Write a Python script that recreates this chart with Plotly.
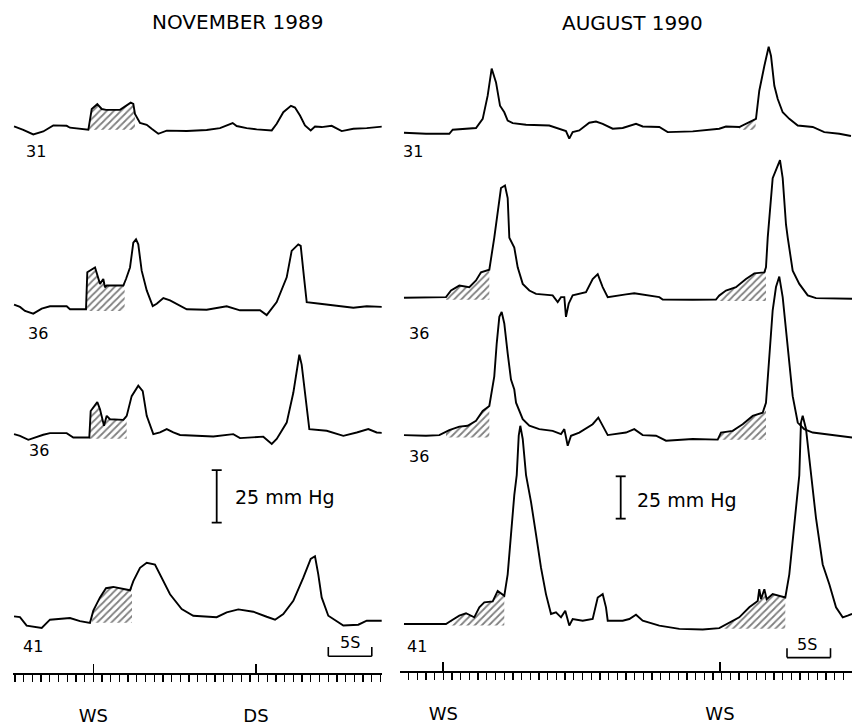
import numpy as np
import plotly.graph_objects as go

# ---------------- data ----------------
# time: s relative to the WS mark of each panel; pressure: mmHg above the record's baseline
# NOVEMBER 1989
nov31_t = [-9.11,-8.05,-6.90,-5.75,-4.60,-3.06,-2.68,-0.57,-0.18,0.46,0.97,1.46,3.07,3.64,4.30,4.60,4.79,5.37,6.14,6.71,7.47,8.44,10.74,13.03,14.56,16.02,16.48,17.63,18.78,20.51,21.08,21.84,22.72,23.18,23.76,24.33,24.99,25.48,26.25,27.40,28.55,29.89,31.43,33.41]
nov31_p = [1.1,-0.5,-2.7,-1.3,1.6,1.4,0.5,-0.5,9.4,11.7,9.4,9.0,9.0,10.7,12.4,11.8,7.1,2.8,1.9,0.0,-2.4,-0.9,-1.1,-0.6,0.3,2.7,1.3,0.3,-0.3,-0.8,2.4,7.9,10.9,10.1,6.3,1.6,-0.8,1.1,0.8,1.4,-1.1,0.0,0.3,1.1]

nov36a_t = [-9.11,-8.43,-7.85,-6.90,-5.93,-4.98,-3.06,-2.68,-0.84,-0.76,-0.69,0.20,0.77,1.15,1.34,1.54,3.45,3.76,4.22,4.60,4.91,5.17,5.56,6.14,6.83,7.29,8.05,8.82,9.97,10.74,13.03,15.33,16.86,19.16,19.93,21.08,22.23,22.80,23.56,23.84,24.22,24.53,26.06,27.59,29.89,31.43,33.41]
nov36a_p = [1.6,0.5,-1.4,-2.7,-0.3,0.8,0.8,-0.6,-0.6,9.9,17.0,19.3,11.5,13.8,9.9,10.7,10.7,13.8,19.3,31.1,32.7,30.3,17.8,8.4,0.9,2.0,4.7,3.6,1.3,-0.6,-0.8,0.8,-1.1,-1.1,-3.4,2.8,14.6,27.2,30.3,29.6,14.6,2.8,2.0,1.3,0.1,0.8,0.5]

nov36b_t = [-9.11,-8.43,-7.47,-6.51,-5.75,-4.98,-3.06,-2.30,-0.46,-0.30,0.46,0.77,1.23,1.54,1.92,3.45,3.84,4.41,5.17,5.68,6.14,6.90,7.67,8.44,9.20,9.97,13.79,16.09,16.86,19.54,20.51,21.08,22.23,22.99,23.49,23.68,23.95,24.33,24.83,26.83,28.74,30.28,31.61,32.57,33.41]
nov36b_p = [0.3,-0.5,-2.4,-0.9,0.0,0.8,0.8,-1.3,-1.3,11.3,15.6,12.1,4.3,9.0,7.4,7.1,9.0,18.4,23.4,20.8,9.0,0.3,1.1,2.7,1.1,-0.1,-0.8,0.3,-1.6,-0.9,-4.4,-2.0,5.8,20.0,33.4,38.1,33.4,20.0,2.7,1.9,-0.5,1.1,2.7,1.1,0.8]

nov41_t = [-9.11,-8.43,-7.66,-5.93,-4.98,-2.68,-1.53,-0.38,0.00,0.77,1.46,2.30,4.22,4.60,5.37,6.14,7.09,7.67,8.82,10.16,11.49,14.18,15.33,16.67,18.39,19.93,20.89,21.84,22.99,24.14,24.99,25.48,25.86,26.25,27.01,28.74,30.46,31.43,33.41]
nov41_p = [2.2,1.8,-2.2,-3.3,0.6,1.4,-0.1,-0.9,4.9,11.2,15.6,16.2,14.6,19.0,25.3,27.7,26.9,22.2,12.7,5.7,2.5,1.8,4.1,5.5,4.4,2.0,0.6,3.3,9.6,20.6,29.6,30.8,22.2,11.2,2.5,-2.2,-1.8,0.1,0.1]

# AUGUST 1990
aug31_t = [-4.52,-1.99,0.69,1.08,3.76,4.53,5.10,5.56,6.06,6.52,7.01,7.40,7.98,9.51,12.18,13.15,14.10,14.48,14.87,15.63,16.78,17.55,18.32,19.47,20.62,22.15,22.92,24.83,25.79,28.67,31.72,32.49,34.02,35.94,36.32,36.90,37.40,37.67,38.05,38.44,39.01,39.77,40.74,42.46,43.79,45.52,46.86]
aug31_p = [-1.2,-1.8,-1.8,0.6,1.6,7.0,20.7,36.7,28.5,14.8,10.9,6.0,4.5,3.5,3.1,1.2,-0.2,-4.7,-0.8,0.2,4.7,5.4,4.1,1.2,1.6,4.1,2.5,2.2,-0.8,-0.4,1.2,2.5,2.2,7.0,23.6,38.2,49.6,44.1,26.5,18.7,10.9,7.0,3.1,2.2,-0.8,-1.8,-3.1]

aug36a_t = [-4.52,-1.99,0.31,0.89,1.84,2.99,3.76,4.33,5.29,5.86,6.63,7.09,7.40,7.59,8.16,8.55,9.13,9.89,10.66,12.57,13.15,13.53,13.91,14.10,14.41,14.87,16.40,17.17,17.75,18.32,18.90,21.00,21.95,24.83,25.22,28.67,31.34,31.72,32.49,33.64,34.79,35.75,36.90,37.09,37.29,37.86,38.70,39.01,39.39,39.59,40.16,40.92,41.89,42.84,45.14,46.98]
aug36a_p = [-0.4,0.0,0.0,3.9,6.8,5.9,9.8,14.6,16.2,35.1,64.4,65.9,58.5,35.1,29.3,17.6,7.8,3.9,1.9,1.0,-2.9,0.0,0.0,-11.7,-3.9,1.0,2.9,10.7,13.6,5.9,0.0,1.6,2.3,0.0,-1.4,-1.6,-1.4,1.0,3.9,5.9,10.7,14.0,14.6,17.6,35.1,70.2,80.9,70.2,42.9,35.1,15.6,7.8,1.0,-0.6,-1.0,-1.0]

aug36b_t = [-4.52,-1.99,-0.46,0.69,1.84,2.80,3.76,4.53,5.29,5.86,6.14,6.44,6.71,7.01,7.40,7.78,8.16,8.36,9.13,9.89,11.03,12.57,13.53,13.91,14.30,14.68,15.63,17.17,17.82,18.32,18.90,21.00,21.95,22.92,24.45,25.60,28.67,31.54,31.92,33.26,34.41,35.56,36.71,37.09,37.47,37.86,38.24,38.62,39.01,39.39,39.77,40.16,40.74,41.49,42.46,43.99,45.52,46.98]
aug36b_p = [0.4,0.0,0.4,3.3,5.4,5.9,8.8,14.6,17.6,35.1,54.6,70.2,73.1,66.3,48.7,33.2,27.3,19.5,9.8,5.9,3.9,2.9,1.0,3.9,-5.9,0.0,1.9,6.8,10.7,5.9,0.4,1.9,3.9,0.4,0.0,-2.9,-1.9,-2.3,1.9,2.9,6.8,11.7,13.6,19.5,48.7,74.1,87.8,94.0,81.9,62.4,39.0,23.4,7.8,3.9,1.9,1.0,0.0,-1.0]

aug41_t = [-4.52,-1.99,0.31,0.89,1.84,2.61,3.56,4.14,4.71,5.68,6.25,7.01,7.40,7.78,8.16,8.44,8.67,8.85,9.13,9.51,10.08,10.66,11.23,11.80,12.38,12.95,13.53,14.02,14.48,14.87,16.02,17.17,17.75,18.32,18.70,18.90,20.62,21.38,22.15,22.92,24.83,27.13,29.82,31.72,32.49,34.02,35.17,36.14,36.32,36.52,36.90,37.17,37.86,39.31,39.77,40.16,40.54,40.92,41.11,41.31,41.69,42.26,42.84,43.61,44.37,45.14,45.91,46.48,46.98]
aug41_p = [0.0,0.0,0.0,1.9,4.9,6.3,3.9,9.8,12.7,13.3,19.5,16.6,29.3,52.7,76.1,87.8,111.2,117.0,109.2,87.8,72.1,52.7,33.2,17.6,5.9,6.8,3.9,7.8,-1.0,2.9,1.9,2.9,15.6,17.6,9.8,1.9,1.9,2.9,5.4,1.9,-1.0,-2.9,-3.3,-2.5,-0.4,3.9,9.8,13.6,20.5,14.6,20.5,14.6,17.6,15.6,29.3,48.7,70.2,87.8,118.9,122.9,115.1,87.8,62.4,35.1,23.4,9.8,3.9,4.9,5.9]

# hatched intervals: (start s, end s, floor mmHg)
nov31_hatch = [(-0.57, 4.79, -0.5)]
nov36a_hatch = [(-0.84, 3.60, -1.4)]
nov36b_hatch = [(-0.46, 3.84, -1.9)]
nov41_hatch = [(-0.15, 4.45, -0.9)]
aug31_hatch = [(34.0, 35.9, 0.6)]
aug36a_hatch = [(0.31, 5.29, -1.6), (31.72, 37.09, -2.3)]
aug36b_hatch = [(0.31, 5.29, -1.0), (31.72, 37.09, -2.3)]
aug41_hatch = [(0.89, 7.01, -1.0), (32.10, 39.31, -2.9)]

record_labels = ["31", "36", "36", "41"]
nov_marks = [0.0, 18.70]
nov_mark_text = ["WS", "DS"]
aug_marks = [0.0, 31.80]
aug_mark_text = ["WS", "WS"]
SCALE_MMHG = 25
SCALE_S = 5

# ---------------- layout (pixels of the 852 x 726 page) ----------------
W, H = 852, 726
FONT = "DejaVu Sans"
panels = {
    "nov": dict(xa="x", ya="y", zero_px=93.3, px_per_s=8.7, px_per_mmhg=2.12,
                left_px=12.7, right_px=381.7, ruler_px=679.5,
                bases=[130, 311, 439, 627],
                records=[(nov31_t, nov31_p, nov31_hatch), (nov36a_t, nov36a_p, nov36a_hatch),
                         (nov36b_t, nov36b_p, nov36b_hatch), (nov41_t, nov41_p, nov41_hatch)],
                label_pos=[(36, 153), (37.5, 337), (38.5, 455), (32.5, 653)],
                title="NOVEMBER 1989", title_pos=(237, 22),
                mmhg_bar=(216.7, 527.7), mmhg_text=(233, 502),
                s_bar=(328.3, 662.7), s_text=(350, 649),
                marks=nov_marks, mark_text=nov_mark_text),
    "aug": dict(xa="x2", ya="y2", zero_px=443.3, px_per_s=8.7, px_per_mmhg=1.71,
                left_px=400, right_px=852, ruler_px=677.5,
                bases=[132, 300, 440, 630],
                records=[(aug31_t, aug31_p, aug31_hatch), (aug36a_t, aug36a_p, aug36a_hatch),
                         (aug36b_t, aug36b_p, aug36b_hatch), (aug41_t, aug41_p, aug41_hatch)],
                label_pos=[(413, 153), (418.5, 337), (418.5, 461), (416.5, 653)],
                title="AUGUST 1990", title_pos=(632, 23),
                mmhg_bar=(620.7, 523.7), mmhg_text=(635, 505),
                s_bar=(787, 664), s_text=(807, 651),
                marks=aug_marks, mark_text=aug_mark_text),
}

fig = go.Figure()
annotations = []
shapes = []


def ann(text, xpx, ypx, size, xanchor="center"):
    annotations.append(dict(text=text, x=xpx / W, y=1 - ypx / H, xref="paper", yref="paper",
                            xanchor=xanchor, yanchor="middle", showarrow=False,
                            font=dict(family=FONT, size=size, color="black")))


for key, P in panels.items():
    K = P["px_per_mmhg"]
    S = P["px_per_s"]
    xa, ya = P["xa"], P["ya"]
    for (t, p, hatches), base in zip(P["records"], P["bases"]):
        t = np.asarray(t, float)
        p = np.asarray(p, float)
        off = -base / K
        for (h0, h1, floor) in hatches:
            inside = (t > h0) & (t < h1)
            ht = np.concatenate([[h0], t[inside], [h1, h1, h0, h0]])
            hp = np.concatenate([[np.interp(h0, t, p)], p[inside],
                                 [np.interp(h1, t, p), floor, floor, np.interp(h0, t, p)]])
            fig.add_trace(go.Scatter(x=ht, y=hp + off, xaxis=xa, yaxis=ya, mode="lines",
                                     line=dict(width=0, color="black"), fill="toself",
                                     fillcolor="rgba(0,0,0,0)",
                                     fillpattern=dict(shape="/", fgcolor="black", bgcolor="white",
                                                      size=5, solidity=0.35),
                                     hoverinfo="skip", showlegend=False))
        fig.add_trace(go.Scatter(x=t, y=p + off, xaxis=xa, yaxis=ya, mode="lines",
                                 line=dict(color="black", width=1.9), showlegend=False))

    # record labels and titles
    for lab, (lx, ly) in zip(record_labels, P["label_pos"]):
        ann(lab, lx, ly, 16)
    ann(P["title"], *P["title_pos"], 20)

    # 25 mmHg scale bar
    bx, by = P["mmhg_bar"]
    bt = (bx - P["zero_px"]) / S
    y0 = -by / K
    y1 = y0 + SCALE_MMHG
    cap = 5 / S
    xr, yr = xa, ya
    for (a0, b0, a1, b1) in [(bt, y0, bt, y1), (bt - cap, y0, bt + cap, y0), (bt - cap, y1, bt + cap, y1)]:
        shapes.append(dict(type="line", xref=xr, yref=yr, x0=a0, y0=b0, x1=a1, y1=b1,
                           line=dict(color="black", width=1.8)))
    ann("25 mm Hg", P["mmhg_text"][0], P["mmhg_text"][1], 19, xanchor="left")

    # 5 s scale bar
    sx, sy = P["s_bar"]
    st0 = (sx - P["zero_px"]) / S
    st1 = st0 + SCALE_S
    sy0 = -sy / K
    sy1 = sy0 + 9.5 / K
    for (a0, b0, a1, b1) in [(st0, sy0, st1, sy0), (st0, sy0, st0, sy1), (st1, sy0, st1, sy1)]:
        shapes.append(dict(type="line", xref=xr, yref=yr, x0=a0, y0=b0, x1=a1, y1=b1,
                           line=dict(color="black", width=1.6)))
    ann("5S", P["s_text"][0], P["s_text"][1], 16)

    # axes: the time ruler is the x axis itself
    xname = "xaxis" if xa == "x" else "xaxis2"
    yname = "yaxis" if ya == "y" else "yaxis2"
    fig.update_layout(**{
        xname: dict(domain=[P["left_px"] / W, P["right_px"] / W], anchor="free",
                    position=1 - P["ruler_px"] / H,
                    range=[(P["left_px"] - P["zero_px"]) / S, (P["right_px"] - P["zero_px"]) / S],
                    showline=True, linecolor="black", linewidth=1.6,
                    showgrid=False, zeroline=False,
                    tickmode="array", tickvals=P["marks"], ticktext=P["mark_text"],
                    ticks="inside", ticklen=9, tickwidth=1.6, tickcolor="black",
                    ticklabelstandoff=26,
                    tickfont=dict(family=FONT, size=18, color="black"),
                    minor=dict(ticks="outside", ticklen=7, tickwidth=1.3, tickcolor="black",
                               tick0=0, dtick=1, showgrid=False)),
        yname: dict(domain=[0, 1], anchor=xa, range=[-H / K, 0], visible=False,
                    showgrid=False, zeroline=False),
    })

fig.update_layout(width=W, height=H, autosize=False,
                  margin=dict(l=0, r=0, t=0, b=0, pad=0),
                  paper_bgcolor="white", plot_bgcolor="white",
                  showlegend=False, annotations=annotations, shapes=shapes)

fig.write_html("out.html", config={"displayModeBar": False, "staticPlot": True},
               post_script="document.body.style.margin='0';")
